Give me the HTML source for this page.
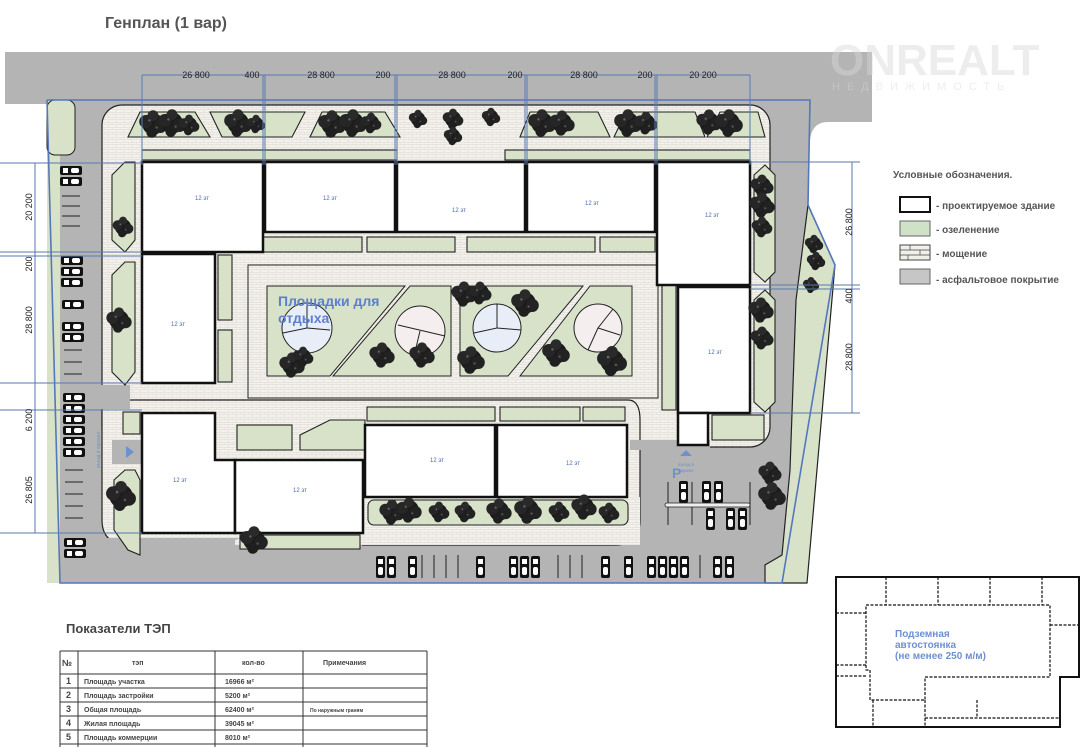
<!DOCTYPE html>
<html><head><meta charset="utf-8"><style>
html,body{margin:0;padding:0;background:#fff;}
svg{display:block;font-family:"Liberation Sans","DejaVu Sans",sans-serif;}
</style></head><body>
<svg width="1087" height="747" viewBox="0 0 1087 747" xmlns="http://www.w3.org/2000/svg">
<defs>
<pattern id="pv" width="8" height="5" patternUnits="userSpaceOnUse">
<rect width="8" height="5" fill="#f3f1ec"/>
<path d="M0 4.5H8M4 0V2.5M0 2.5H8M0 2.5V5" stroke="#dcd8d0" stroke-width="0.6" fill="none"/>
</pattern>
<symbol id="t" viewBox="0 0 20 20" overflow="visible">
<circle cx="10" cy="10" r="9" fill="#1c1c1c"/><circle cx="4" cy="8" r="5.5" fill="#262626"/><circle cx="16" cy="12" r="5.5" fill="#222"/><circle cx="10" cy="3" r="4.5" fill="#2a2a2a"/><circle cx="9" cy="17" r="4.5" fill="#1f1f1f"/>
<circle cx="7" cy="7" r="1" fill="#666"/><circle cx="13" cy="13" r="1" fill="#555"/>
</symbol>
<symbol id="ch" viewBox="0 0 22 9"><rect x="0" y="0" width="22" height="9" rx="2" fill="#111"/><rect x="3" y="2" width="5" height="5" fill="#fff"/><rect x="11" y="2" width="8" height="5" rx="2" fill="#fff"/></symbol>
<symbol id="cv" viewBox="0 0 9 22"><rect x="0" y="0" width="9" height="22" rx="2" fill="#111"/><rect x="2" y="3" width="5" height="5" fill="#fff"/><rect x="2" y="11" width="5" height="8" rx="2" fill="#fff"/></symbol>
</defs>

<text x="105" y="28" font-size="16" font-weight="bold" fill="#555">Генплан (1 вар)</text>

<!-- roads -->
<rect x="5" y="52" width="867" height="52" fill="#b4b4b4"/>
<path d="M800 100H872V122H828Q812 122 810 140Z" fill="#b4b4b4"/>
<polygon points="47,100 810,100 808,205 782,583 60,583" fill="#b4b4b4"/>
<polygon points="808,205 835,265 807,583 765,583 765,565 782,555 790,470 796,300" fill="#d7e2c9" stroke="#222" stroke-width="1.2"/>
<rect x="47" y="100" width="13" height="483" fill="#d7e2c9"/>
<rect x="47" y="100" width="28" height="55" rx="8" fill="#d7e2c9" stroke="#222" stroke-width="1"/>

<!-- watermark -->
<text x="830" y="75" font-size="44" font-weight="bold" fill="#d8d8d8" opacity="0.45">ONREALT</text>
<text x="832" y="90" font-size="11" letter-spacing="7" fill="#d8d8d8" opacity="0.45">НЕДВИЖИМОСТЬ</text>

<!-- paving -->
<rect x="102" y="105" width="668" height="342" rx="20" fill="url(#pv)" stroke="#222" stroke-width="1.2"/>
<path d="M102 400H628Q640 400 640 420V520Q640 545 615 545H130Q102 545 102 520Z" fill="url(#pv)" stroke="#222" stroke-width="1.2"/>
<rect x="60" y="385" width="70" height="24" fill="#b4b4b4"/>
<rect x="112" y="440" width="30" height="24" fill="#b4b4b4"/>
<polygon points="126,446 126,458 134,452" fill="#6f8fcf"/>
<rect x="630" y="440" width="80" height="10" fill="#b4b4b4"/>
<rect x="102" y="538" width="260" height="10" fill="#b4b4b4"/>
<path d="M235 540L370 497H640V545H235Z" fill="url(#pv)"/>

<!-- greenery -->
<g fill="#d7e2c9" stroke="#222" stroke-width="1.1">
<polygon points="128,137 210,137 195,112 140,112"/>
<polygon points="210,112 305,112 292,137 222,137"/>
<polygon points="310,137 400,137 385,112 322,112"/>
<polygon points="520,137 610,137 598,112 530,112"/>
<polygon points="614,137 705,137 695,112 626,112"/>
<polygon points="707,137 765,137 758,112 720,112"/>
<rect x="142" y="150" width="255" height="10"/>
<rect x="505" y="150" width="245" height="10"/>
<polygon points="112,175 125,162 135,162 135,240 125,252 112,240"/>
<polygon points="112,275 125,262 135,262 135,372 125,385 112,372"/>
<polygon points="754,175 765,165 775,175 775,272 765,282 754,272"/>
<polygon points="754,300 765,290 775,300 775,402 765,412 754,402"/>
<rect x="252" y="237" width="110" height="15"/><rect x="367" y="237" width="88" height="15"/>
<rect x="467" y="237" width="128" height="15"/><rect x="600" y="237" width="55" height="15"/>
<rect x="218" y="255" width="14" height="65"/><rect x="218" y="330" width="14" height="52"/>
<rect x="662" y="265" width="14" height="145"/>
<rect x="123" y="412" width="17" height="22"/>
<rect x="237" y="425" width="55" height="25"/>
<polygon points="300,450 300,435 330,420 365,420 365,450"/>
<rect x="367" y="407" width="128" height="14"/><rect x="500" y="407" width="80" height="14"/><rect x="583" y="407" width="42" height="14"/>
<rect x="368" y="500" width="260" height="25" rx="6"/>
<rect x="240" y="535" width="120" height="14"/>
<polygon points="114,480 125,470 135,470 140,480 140,555 128,550 114,530"/>
<rect x="712" y="415" width="52" height="25"/>
</g>

<!-- courtyard -->
<rect x="248" y="265" width="410" height="133" fill="none" stroke="#222" stroke-width="1"/>
<g fill="#d7e2c9" stroke="#222" stroke-width="1">
<polygon points="267,286 405,286 330,376 267,376"/>
<polygon points="410,286 451,286 451,376 333,376"/>
<polygon points="460,286 583,286 508,376 460,376"/>
<polygon points="590,286 632,286 632,376 520,376"/>
</g>
<g stroke="#222" stroke-width="1">
<circle cx="307" cy="328" r="25" fill="#e8eef8"/><path d="M307 303V328L283 333M307 328L330 330" fill="none"/>
<circle cx="420" cy="331" r="25" fill="#f4eeee"/><path d="M398 325L445 336M420 331L414 356" fill="none"/>
<circle cx="497" cy="328" r="24" fill="#e8eef8"/><path d="M497 304V328L474 333M497 328L521 330" fill="none"/>
<circle cx="598" cy="328" r="24" fill="#f4eeee"/><path d="M613 309L598 328L620 335M598 328L588 350" fill="none"/>
</g>
<text x="278" y="306" font-size="14" font-weight="bold" fill="#5d7fcf">Площадки для</text>
<text x="278" y="323" font-size="14" font-weight="bold" fill="#5d7fcf">отдыха</text>

<!-- buildings -->
<g fill="#fff" stroke="#111" stroke-width="2.5">
<rect x="142" y="162" width="121" height="90"/>
<rect x="265" y="162" width="130" height="70"/>
<rect x="397" y="162" width="128" height="70"/>
<rect x="527" y="162" width="128" height="70"/>
<rect x="657" y="162" width="93" height="123"/>
<rect x="142" y="254" width="73" height="129"/>
<rect x="678" y="287" width="72" height="126"/>
<rect x="678" y="413" width="30" height="32"/>
<path d="M142 413H215V460H235V533H142Z"/>
<rect x="235" y="460" width="128" height="73"/>
<rect x="365" y="425" width="130" height="72"/>
<rect x="497" y="425" width="130" height="72"/>
</g>
<g font-size="6" fill="#4a6ab0" text-anchor="middle">
<text x="202" y="200">12 эт</text><text x="330" y="200">12 эт</text><text x="459" y="212">12 эт</text>
<text x="592" y="205">12 эт</text><text x="712" y="217">12 эт</text><text x="178" y="326">12 эт</text>
<text x="715" y="354">12 эт</text><text x="180" y="482">12 эт</text><text x="300" y="492">12 эт</text>
<text x="437" y="462">12 эт</text><text x="573" y="465">12 эт</text>
</g>
<text x="672" y="478" font-size="14" font-weight="bold" fill="#6f8fcf">P</text>
<polygon points="680,456 686,450 692,456" fill="#6f8fcf"/>
<text x="686" y="466" font-size="4.5" fill="#6f8fcf" text-anchor="middle">въезд в</text>
<text x="686" y="472" font-size="4.5" fill="#6f8fcf" text-anchor="middle">паркинг</text>

<!-- trees -->
<g>
<use href="#t" x="141" y="112" width="24" height="24"/><use href="#t" x="160" y="111" width="24" height="24"/><use href="#t" x="180" y="116" width="18" height="18"/>
<use href="#t" x="226" y="111" width="24" height="24"/><use href="#t" x="248" y="116" width="16" height="16"/>
<use href="#t" x="320" y="112" width="24" height="24"/><use href="#t" x="341" y="111" width="24" height="24"/><use href="#t" x="362" y="114" width="18" height="18"/>
<use href="#t" x="408" y="111" width="20" height="16"/><use href="#t" x="444" y="110" width="18" height="18"/><use href="#t" x="444" y="128" width="18" height="16"/><use href="#t" x="482" y="109" width="18" height="16"/>
<use href="#t" x="530" y="111" width="24" height="24"/><use href="#t" x="551" y="112" width="22" height="22"/>
<use href="#t" x="616" y="111" width="24" height="24"/><use href="#t" x="636" y="113" width="20" height="20"/>
<use href="#t" x="698" y="111" width="22" height="22"/><use href="#t" x="717" y="111" width="24" height="24"/>
<use href="#t" x="114" y="218" width="18" height="18"/><use href="#t" x="108" y="306" width="22" height="28"/>
<use href="#t" x="752" y="176" width="20" height="20"/><use href="#t" x="750" y="194" width="24" height="22"/><use href="#t" x="753" y="218" width="18" height="18"/>
<use href="#t" x="750" y="298" width="22" height="24"/><use href="#t" x="752" y="328" width="20" height="20"/>
<use href="#t" x="806" y="236" width="16" height="16"/><use href="#t" x="808" y="253" width="16" height="16"/><use href="#t" x="804" y="278" width="14" height="14"/>
<use href="#t" x="760" y="463" width="20" height="20"/><use href="#t" x="760" y="483" width="24" height="26"/>
<use href="#t" x="108" y="480" width="26" height="32"/><use href="#t" x="240" y="528" width="28" height="24"/>
<use href="#t" x="281" y="354" width="22" height="22"/><use href="#t" x="294" y="348" width="18" height="18"/>
<use href="#t" x="368" y="344" width="28" height="22"/><use href="#t" x="410" y="344" width="24" height="22"/>
<use href="#t" x="453" y="283" width="22" height="22"/><use href="#t" x="469" y="283" width="22" height="20"/><use href="#t" x="513" y="291" width="24" height="24"/>
<use href="#t" x="458" y="348" width="26" height="24"/><use href="#t" x="543" y="341" width="26" height="24"/>
<use href="#t" x="598" y="348" width="28" height="26"/>
<use href="#t" x="381" y="501" width="22" height="22"/><use href="#t" x="398" y="499" width="22" height="22"/><use href="#t" x="430" y="503" width="18" height="18"/>
<use href="#t" x="456" y="503" width="18" height="18"/><use href="#t" x="488" y="500" width="22" height="22"/><use href="#t" x="516" y="498" width="24" height="24"/>
<use href="#t" x="550" y="503" width="18" height="18"/><use href="#t" x="573" y="496" width="22" height="22"/><use href="#t" x="600" y="504" width="18" height="18"/>
</g>

<!-- cars -->
<g>
<use href="#ch" x="60" y="166" width="22" height="9"/><use href="#ch" x="60" y="177" width="22" height="9"/>
<use href="#ch" x="61" y="256" width="22" height="9"/><use href="#ch" x="61" y="267" width="22" height="9"/><use href="#ch" x="61" y="278" width="22" height="9"/>
<use href="#ch" x="62" y="300" width="22" height="9"/><use href="#ch" x="62" y="322" width="22" height="9"/><use href="#ch" x="62" y="333" width="22" height="9"/>
<use href="#ch" x="63" y="393" width="22" height="9"/><use href="#ch" x="63" y="404" width="22" height="9"/><use href="#ch" x="63" y="415" width="22" height="9"/>
<use href="#ch" x="63" y="426" width="22" height="9"/><use href="#ch" x="63" y="437" width="22" height="9"/><use href="#ch" x="63" y="448" width="22" height="9"/>
<use href="#ch" x="64" y="538" width="22" height="9"/><use href="#ch" x="64" y="549" width="22" height="9"/>
</g>
<g stroke="#222" stroke-width="1">
<path d="M62 196H80M62 206H80M62 216H80M62 226H80M64 350H82M64 362H82M64 374H82M65 470H83M65 482H83M65 494H83M65 506H83M65 518H83"/>
<path d="M422 555V578M434 555V578M446 555V578M458 555V578M558 555V578M570 555V578M582 555V578M700 555V578M668 482V525M692 482V525M750 482V525"/>
</g>
<g>
<use href="#cv" x="376" y="556" width="9" height="22"/><use href="#cv" x="387" y="556" width="9" height="22"/><use href="#cv" x="408" y="556" width="9" height="22"/>
<use href="#cv" x="476" y="556" width="9" height="22"/><use href="#cv" x="509" y="556" width="9" height="22"/><use href="#cv" x="520" y="556" width="9" height="22"/><use href="#cv" x="531" y="556" width="9" height="22"/>
<use href="#cv" x="601" y="556" width="9" height="22"/><use href="#cv" x="624" y="556" width="9" height="22"/>
<use href="#cv" x="647" y="556" width="9" height="22"/><use href="#cv" x="658" y="556" width="9" height="22"/><use href="#cv" x="669" y="556" width="9" height="22"/><use href="#cv" x="680" y="556" width="9" height="22"/>
<use href="#cv" x="713" y="556" width="9" height="22"/><use href="#cv" x="725" y="556" width="9" height="22"/>
<use href="#cv" x="679" y="481" width="9" height="22"/><use href="#cv" x="702" y="481" width="9" height="22"/><use href="#cv" x="714" y="481" width="9" height="22"/>
<use href="#cv" x="706" y="508" width="9" height="22"/><use href="#cv" x="726" y="508" width="9" height="22"/><use href="#cv" x="738" y="508" width="9" height="22"/>
</g>
<rect x="665" y="503" width="85" height="4" rx="2" fill="#eee" stroke="#222" stroke-width="0.8"/>

<!-- site boundary -->
<polyline points="47,100 810,100 808,205 835,265 782,583 60,583 47,100" fill="none" stroke="#5577bb" stroke-width="1.6"/>

<!-- dimensions -->
<g stroke="#5a78b0" stroke-width="1" fill="none">
<path d="M142 75H750"/>
<path d="M142 75V165M263 75V165M265 75V165M395 75V165M397 75V165M525 75V165M527 75V165M655 75V165M657 75V165M750 75V165"/>
<path d="M35 163V533"/>
<path d="M0 163H142M0 252H142M0 256H142M0 383H142M0 410H142M0 533H142"/>
<path d="M852 162V413"/>
<path d="M750 162H860M750 285H860M750 289H860M750 413H860"/>
</g>
<g font-size="9" fill="#222" text-anchor="middle">
<text x="196" y="78">26 800</text><text x="252" y="78">400</text><text x="321" y="78">28 800</text><text x="383" y="78">200</text>
<text x="452" y="78">28 800</text><text x="515" y="78">200</text><text x="584" y="78">28 800</text><text x="645" y="78">200</text><text x="703" y="78">20 200</text>
<text transform="translate(32,207) rotate(-90)">20 200</text>
<text transform="translate(32,264) rotate(-90)">200</text>
<text transform="translate(32,320) rotate(-90)">28 800</text>
<text transform="translate(32,420) rotate(-90)">6 200</text>
<text transform="translate(32,490) rotate(-90)">26 805</text>
<text transform="translate(852,222) rotate(-90)">26 800</text>
<text transform="translate(852,296) rotate(-90)">400</text>
<text transform="translate(852,357) rotate(-90)">28 800</text>
</g>
<text transform="translate(100,468) rotate(-90)" font-size="5" fill="#6f8fcf">въезд в паркинг</text>

<!-- legend -->
<text x="893" y="178" font-size="10" font-weight="bold" fill="#555">Условные обозначения.</text>
<rect x="900" y="197" width="30" height="15" fill="#fff" stroke="#111" stroke-width="2"/>
<rect x="900" y="221" width="30" height="15" fill="#cfe2c8" stroke="#666" stroke-width="1"/>
<rect x="900" y="245" width="30" height="15" fill="#f1efea" stroke="#444" stroke-width="1"/>
<path d="M900 250H930M900 255H930M910 245V250M920 250V255M908 255V260" stroke="#444" stroke-width="0.7"/>
<rect x="900" y="269" width="30" height="15" fill="#c6c6c6" stroke="#666" stroke-width="1"/>
<g font-size="10" font-weight="bold" fill="#555">
<text x="936" y="209">- проектируемое здание</text>
<text x="936" y="233">- озеленение</text>
<text x="936" y="257">- мощение</text>
<text x="936" y="283">- асфальтовое покрытие</text>
</g>

<!-- underground parking -->
<g fill="none" stroke="#111">
<path d="M836 577H1079V677H1060V727H836Z" stroke-width="2"/>
<path d="M866 605H1050V677H925V700H870V670H866Z" stroke-width="1.2" stroke-dasharray="3,1.5"/>
<path d="M886 577V605M938 577V605M990 577V605M1042 577V605M836 613H866M836 665H866M836 676H866M1050 625H1079M873 700V727M925 700V727M925 718H1060M977 700V718" stroke-width="1.2" stroke-dasharray="3,1.5"/>
</g>
<g font-size="10" font-weight="bold" fill="#6f8fcf">
<text x="895" y="637">Подземная</text><text x="895" y="648">автостоянка</text><text x="895" y="659">(не менее 250 м/м)</text>
</g>

<!-- TEP -->
<text x="66" y="633" font-size="13" font-weight="bold" fill="#444">Показатели ТЭП</text>
<g stroke="#333" stroke-width="1" fill="none">
<path d="M60 651H427M60 674H427M60 688H427M60 702H427M60 716H427M60 730H427M60 744H427"/>
<path d="M60 651V747M78 651V747M215 651V747M303 651V747M427 651V747"/>
</g>
<g font-size="7" font-weight="bold" fill="#444">
<text x="62" y="666" font-size="9">№</text>
<text x="132" y="665">тэп</text><text x="242" y="665">кол-во</text><text x="323" y="665">Примечания</text>
<text x="66" y="684" font-size="9">1</text><text x="84" y="684">Площадь участка</text><text x="225" y="684">16966 м²</text>
<text x="66" y="698" font-size="9">2</text><text x="84" y="698">Площадь застройки</text><text x="225" y="698">5200 м²</text>
<text x="66" y="712" font-size="9">3</text><text x="84" y="712">Общая площадь</text><text x="225" y="712">62400 м²</text><text x="310" y="712" font-size="5">По наружным граням</text>
<text x="66" y="726" font-size="9">4</text><text x="84" y="726">Жилая площадь</text><text x="225" y="726">39045 м²</text>
<text x="66" y="740" font-size="9">5</text><text x="84" y="740">Площадь коммерции</text><text x="225" y="740">8010 м²</text>
</g>
</svg>
</body></html>
